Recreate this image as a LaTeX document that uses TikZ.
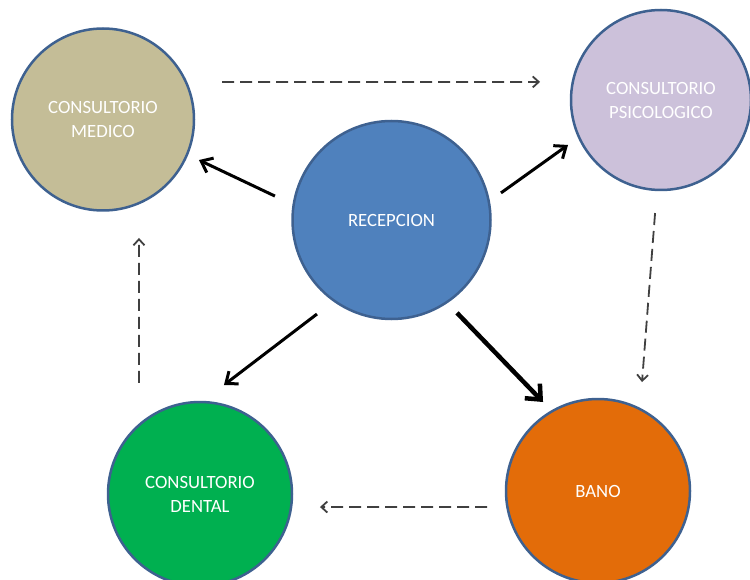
\documentclass[tikz,border=0pt]{standalone}
\usepackage{fontspec}
\setmainfont{Carlito}
\usetikzlibrary{arrows.meta}

\definecolor{edge}{HTML}{3E6190}
\definecolor{medico}{HTML}{C4BD97}
\definecolor{recepcion}{HTML}{4F81BD}
\definecolor{psico}{HTML}{CCC1DA}
\definecolor{dental}{HTML}{00B050}
\definecolor{bano}{HTML}{E36C09}

\begin{document}
\begin{tikzpicture}[x=1pt, y=1pt,
    room/.style = {circle, draw=edge, line width=2.5pt, inner sep=0pt,
        text=white, align=center, font=\fontsize{18.7}{24}\selectfont},
    go/.style = {-{Straight Barb[length=10pt,width=16pt]}, line width=3pt},
    biggo/.style = {-{Straight Barb[length=12pt,width=21pt]}, line width=4.5pt},
    walk/.style = {-{Straight Barb[length=6pt,width=11pt]}, line width=1.8pt,
        dash pattern=on 12pt off 6pt, black!75}]
    \useasboundingbox (0,0) rectangle (750,-580);

    % rooms
    \node[room, fill=medico, minimum size=182pt] (med) at (103,-119.5) {CONSULTORIO\\MEDICO};
    \node[room, fill=recepcion, minimum size=198pt] (rec) at (391.5,-220) {RECEPCION};
    \node[room, fill=psico, minimum size=180pt] (psi) at (661,-100) {CONSULTORIO\\PSICOLOGICO};
    \node[room, fill=dental, minimum size=184pt] (den) at (200,-494) {CONSULTORIO\\DENTAL};
    \node[room, fill=bano, minimum size=184pt] (ban) at (598,-491) {BANO};

    % from the reception
    \draw[go] ([shift={(168.4:119)}]rec.center) -- ([shift={(337.1:104.2)}]med.center);
    \draw[go] ([shift={(13.9:112.8)}]rec.center) -- ([shift={(205.8:103.3)}]psi.center);
    \draw[go] ([shift={(231.6:120)}]rec.center) -- ([shift={(77.6:111.6)}]den.center);
    \draw[biggo] ([shift={(305.2:113.7)}]rec.center) -- ([shift={(121.7:104.6)}]ban.center);

    % round trip
    \draw[walk] ([shift={(17.5:124.8)}]med.center) -- ([shift={(171.5:122.3)}]psi.center);
    \draw[walk] ([shift={(267:113.2)}]psi.center) -- ([shift={(68:117.5)}]ban.center);
    \draw[walk] ([shift={(188.2:112.1)}]ban.center) -- ([shift={(353.8:120.7)}]den.center);
    \draw[walk] ([shift={(118.8:126.7)}]den.center) -- ([shift={(286.9:123.8)}]med.center);
\end{tikzpicture}
\end{document}
